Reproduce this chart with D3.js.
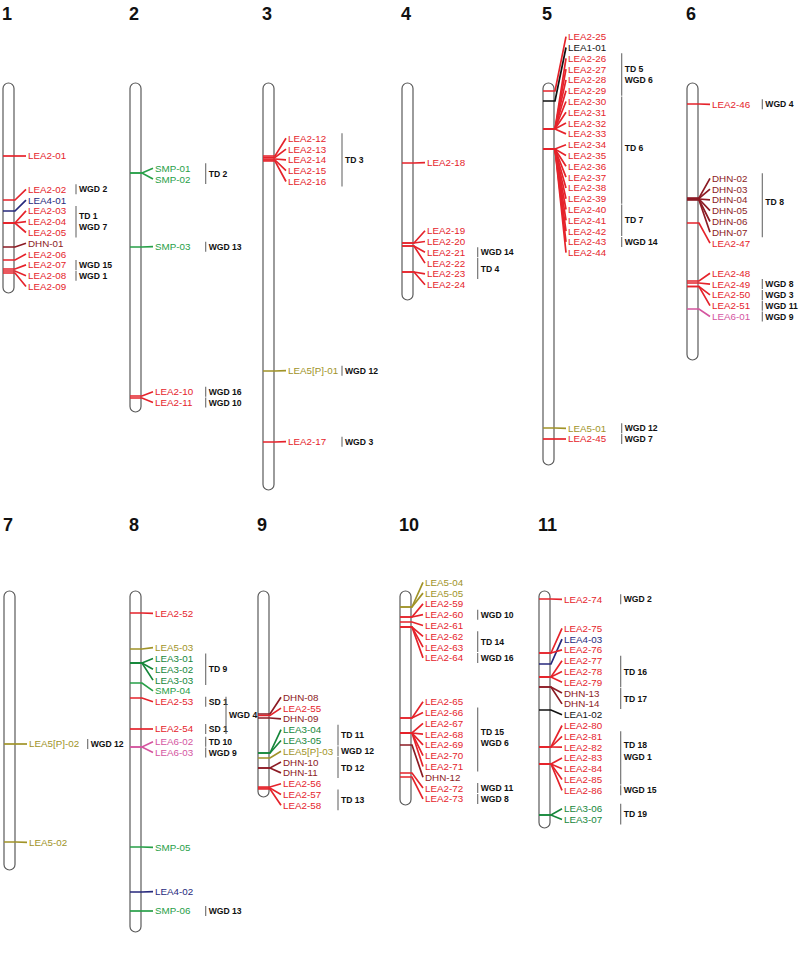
<!DOCTYPE html>
<html><head><meta charset="utf-8">
<script src="https://cdn.jsdelivr.net/npm/d3@7"></script>
<style>body{margin:0;background:#fff}svg{display:block}</style>
</head><body><svg id="c" width="800" height="969"></svg>
<script>
// ---------------- DATA ----------------
const chromosomes = ["1","2","3","4","5","6","7","8","9","10","11"];
const chromLengthMb = [21.0, 32.9, 40.7, 21.7, 38.2, 27.7, 27.9, 34.1, 20.6, 21.4, 23.7];

// gene name, position on chromosome (Mb)
const chr1Genes = [["LEA2-01",7.3],["LEA2-02",11.7],["LEA4-01",12.8],["LEA2-03",14.0],["LEA2-04",14.0],["LEA2-05",14.0],["DHN-01",16.4],["LEA2-06",17.7],["LEA2-07",18.6],["LEA2-08",18.8],["LEA2-09",19.0]];
const chr2Genes = [["SMP-01",9.0],["SMP-02",9.0],["SMP-03",16.4],["LEA2-10",31.3],["LEA2-11",31.5]];
const chr3Genes = [["LEA2-12",7.3],["LEA2-13",7.45],["LEA2-14",7.6],["LEA2-15",7.7],["LEA2-16",7.8],["LEA5[P]-01",28.8],["LEA2-17",35.9]];
const chr4Genes = [["LEA2-18",8.0],["LEA2-19",16.0],["LEA2-20",16.0],["LEA2-21",16.3],["LEA2-22",16.3],["LEA2-23",18.9],["LEA2-24",18.9]];
const chr5Genes = [["LEA2-25",0.8],["LEA1-01",1.8],["LEA2-26",4.6],["LEA2-27",4.6],["LEA2-28",4.6],["LEA2-29",4.6],["LEA2-30",4.6],["LEA2-31",4.6],["LEA2-32",4.6],["LEA2-33",4.6],["LEA2-34",6.6],["LEA2-35",6.6],["LEA2-36",6.6],["LEA2-37",6.6],["LEA2-38",6.6],["LEA2-39",6.6],["LEA2-40",6.6],["LEA2-41",6.6],["LEA2-42",6.6],["LEA2-43",6.6],["LEA2-44",6.6],["LEA5-01",34.5],["LEA2-45",35.6]];
const chr6Genes = [["LEA2-46",2.1],["DHN-02",11.5],["DHN-03",11.55],["DHN-04",11.6],["DHN-05",11.6],["DHN-06",11.65],["DHN-07",11.7],["LEA2-47",14.0],["LEA2-48",19.8],["LEA2-49",20.0],["LEA2-50",20.35],["LEA2-51",20.35],["LEA6-01",22.6]];
const chr7Genes = [["LEA5[P]-02",15.3],["LEA5-02",25.1]];
const chr8Genes = [["LEA2-52",2.2],["LEA5-03",5.8],["LEA3-01",7.2],["LEA3-02",7.2],["LEA3-03",7.2],["SMP-04",9.2],["LEA2-53",10.7],["LEA2-54",13.8],["LEA6-02",15.6],["LEA6-03",15.6],["SMP-05",25.6],["LEA4-02",30.1],["SMP-06",32.0]];
const chr9Genes = [["DHN-08",12.3],["LEA2-55",12.45],["DHN-09",12.7],["LEA3-04",16.2],["LEA3-05",16.2],["LEA5[P]-03",16.7],["DHN-10",17.7],["DHN-11",17.7],["LEA2-56",19.6],["LEA2-57",19.7],["LEA2-58",19.8]];
const chr10Genes = [["LEA5-04",1.6],["LEA5-05",1.6],["LEA2-59",2.6],["LEA2-60",2.6],["LEA2-61",3.1],["LEA2-62",3.6],["LEA2-63",3.6],["LEA2-64",3.6],["LEA2-65",12.7],["LEA2-66",12.7],["LEA2-67",14.2],["LEA2-68",14.2],["LEA2-69",14.2],["LEA2-70",14.2],["LEA2-71",14.2],["DHN-12",15.4],["LEA2-72",18.2],["LEA2-73",18.6]];
const chr11Genes = [["LEA2-74",0.8],["LEA2-75",6.2],["LEA4-03",7.3],["LEA2-76",6.2],["LEA2-77",8.6],["LEA2-78",8.6],["LEA2-79",8.6],["DHN-13",9.6],["DHN-14",9.6],["LEA1-02",11.9],["LEA2-80",15.6],["LEA2-81",15.6],["LEA2-82",15.6],["LEA2-83",17.3],["LEA2-84",17.3],["LEA2-85",17.3],["LEA2-86",17.3],["LEA3-06",22.4],["LEA3-07",22.4]];
const geneSets = [chr1Genes,chr2Genes,chr3Genes,chr4Genes,chr5Genes,chr6Genes,chr7Genes,chr8Genes,chr9Genes,chr10Genes,chr11Genes];

// duplication annotations: chromosome index, texts, first gene, last gene, second column flag
const duplications = [
 [0,["WGD 2"],"LEA2-02","LEA2-02"],[0,["TD 1","WGD 7"],"LEA2-03","LEA2-05"],[0,["WGD 15"],"LEA2-07","LEA2-07"],[0,["WGD 1"],"LEA2-08","LEA2-08"],
 [1,["TD 2"],"SMP-01","SMP-02"],[1,["WGD 13"],"SMP-03","SMP-03"],[1,["WGD 16"],"LEA2-10","LEA2-10"],[1,["WGD 10"],"LEA2-11","LEA2-11"],
 [2,["TD 3"],"LEA2-12","LEA2-16"],[2,["WGD 12"],"LEA5[P]-01","LEA5[P]-01"],[2,["WGD 3"],"LEA2-17","LEA2-17"],
 [3,["WGD 14"],"LEA2-21","LEA2-21"],[3,["TD 4"],"LEA2-22","LEA2-23"],
 [4,["TD 5","WGD 6"],"LEA2-26","LEA2-29"],[4,["TD 6"],"LEA2-30","LEA2-39"],[4,["TD 7"],"LEA2-40","LEA2-42"],[4,["WGD 14"],"LEA2-43","LEA2-43"],[4,["WGD 12"],"LEA5-01","LEA5-01"],[4,["WGD 7"],"LEA2-45","LEA2-45"],
 [5,["WGD 4"],"LEA2-46","LEA2-46"],[5,["TD 8"],"DHN-02","DHN-07"],[5,["WGD 8"],"LEA2-49","LEA2-49"],[5,["WGD 3"],"LEA2-50","LEA2-50"],[5,["WGD 11"],"LEA2-51","LEA2-51"],[5,["WGD 9"],"LEA6-01","LEA6-01"],
 [6,["WGD 12"],"LEA5[P]-02","LEA5[P]-02"],
 [7,["TD 9"],"LEA3-01","LEA3-03"],[7,["SD 1"],"LEA2-53","LEA2-53"],[7,["SD 1"],"LEA2-54","LEA2-54"],[7,["WGD 4"],"LEA2-53","LEA2-54",1],[7,["TD 10"],"LEA6-02","LEA6-02"],[7,["WGD 9"],"LEA6-03","LEA6-03"],[7,["WGD 13"],"SMP-06","SMP-06"],
 [8,["TD 11"],"LEA3-04","LEA3-05"],[8,["WGD 12"],"LEA5[P]-03","LEA5[P]-03"],[8,["TD 12"],"DHN-10","DHN-11"],[8,["TD 13"],"LEA2-57","LEA2-58"],
 [9,["WGD 10"],"LEA2-60","LEA2-60"],[9,["TD 14"],"LEA2-62","LEA2-63"],[9,["WGD 16"],"LEA2-64","LEA2-64"],[9,["TD 15","WGD 6"],"LEA2-66","LEA2-71"],[9,["WGD 11"],"LEA2-72","LEA2-72"],[9,["WGD 8"],"LEA2-73","LEA2-73"],
 [10,["WGD 2"],"LEA2-74","LEA2-74"],[10,["TD 16"],"LEA2-77","LEA2-79"],[10,["TD 17"],"DHN-13","DHN-14"],[10,["TD 18","WGD 1"],"LEA2-81","LEA2-85"],[10,["WGD 15"],"LEA2-86","LEA2-86"],[10,["TD 19"],"LEA3-06","LEA3-07"]
];

// ---------------- LAYOUT ----------------
const chrX = [3,130,263,402,543,687,4,130,258,400,539];
const rowTop = [83,591];
const numberBaseline = [20,531];
const annX = [76,205.7,342,477.7,621.7,762.3,87.7,205.7,338,477.7,620.7];
const annTextShift = {"TD 18":-7,"TD 8":-3,"TD 6":-2,"TD 15":-2};
const labelYs = [
 [156,189.3,200.1,210.9,221.7,232.5,243.3,254.1,264.9,275.7,286.5],
 [168.3,179.1,246.7,391.7,402.5],
 [138.3,149.1,159.9,170.7,181.5,370.7,441.7],
 [162.7,230.7,241.5,252.3,263.1,273.9,284.7],
 [36.7,47.5,58.3,69.1,79.9,90.7,101.5,112.3,123.1,133.9,144.7,155.5,166.3,177.1,187.9,198.7,209.5,220.3,231.1,241.9,252.7,428.3,439],
 [104.3,178.3,189.1,199.9,210.7,221.5,232.3,243.1,273.3,284.1,294.9,305.7,316.5],
 [744,842.3],
 [613.3,647.7,658.5,669.3,680.1,690.9,701.7,729,741.7,752.5,847.3,891.7,911],
 [697.3,708.1,718.9,729.7,740.5,751.3,762.1,772.9,783.7,794.5,805.3],
 [582.3,593.1,603.9,614.7,625.5,636.3,647.1,657.9,701.7,712.5,723.3,734.1,744.9,755.7,766.5,777.3,788.1,798.9],
 [599.3,628.3,639.1,649.9,660.7,671.5,682.3,693.1,703.9,714.7,725.5,736.3,747.1,757.9,768.7,779.5,790.3,808.7,819.5]
];
const familyColor = {LEA2:"#e5232b",LEA4:"#27297c",DHN:"#8c1b24",SMP:"#27a048",LEA3:"#15863a",LEA5:"#a09328",LEA6:"#d4559f",LEA1:"#111111"};
const chrW = 11;
const yScale = d3.scaleLinear().domain([0,50]).range([0,500]);

const svg = d3.select("#c");
const labelFont = "'Liberation Sans', Arial, sans-serif";
const labelPos = {};

chromosomes.forEach((c,i)=>{
  const row = i<6?0:1;
  const x0 = chrX[i], x1 = x0+chrW, top = rowTop[row];
  const g = svg.append("g");
  g.append("text").attr("x",x0-1).attr("y",numberBaseline[row]).text(c)
    .attr("font-family",labelFont).attr("font-weight","bold").attr("font-size",18).attr("fill","#111");
  g.append("rect").attr("x",x0).attr("y",top).attr("width",chrW).attr("height",yScale(chromLengthMb[i]))
    .attr("rx",chrW/2).attr("ry",chrW/2).attr("fill","#fff").attr("stroke","#5a5a5a").attr("stroke-width",1.2);
  const genes = geneSets[i].map((d,k)=>({name:d[0],pos:d[1],ly:labelYs[i][k]}));
  genes.forEach(d=>{ labelPos[d.name]=d.ly; });
  const fam = n => n.split("-")[0].replace("[P]","");
  g.selectAll("path.gene").data(genes).join("path").attr("class","gene")
    .attr("d",d=>{const gy = top+yScale(d.pos); return `M${x0},${gy}H${x1+1}L${x1+12},${d.ly}`;})
    .attr("fill","none").attr("stroke",d=>familyColor[fam(d.name)]).attr("stroke-width",1.7);
  g.selectAll("text.gl").data(genes).join("text").attr("class","gl")
    .attr("x",x1+14).attr("y",d=>d.ly).attr("dy","0.35em").text(d=>d.name)
    .attr("font-family",labelFont).attr("font-size",9.8).attr("fill",d=>familyColor[fam(d.name)]);
});

duplications.forEach(([ci,texts,first,last,col])=>{
  const bx = annX[ci] + (col?20.3:0);
  const y0 = labelPos[first]-5, y1 = labelPos[last]+5;
  svg.append("line").attr("x1",bx).attr("x2",bx).attr("y1",y0).attr("y2",y1)
    .attr("stroke","#6a6a6a").attr("stroke-width",1.1);
  const mid = (y0+y1)/2 + (annTextShift[texts[0]]||0);
  texts.forEach((t,k)=>{
    const ty = mid + (k-(texts.length-1)/2)*11.5;
    svg.append("text").attr("x",bx+3).attr("y",ty).attr("dy","0.35em").text(t)
      .attr("font-family",labelFont).attr("font-weight","bold").attr("font-size",8.6).attr("fill","#111");
  });
});
</script></body></html>
